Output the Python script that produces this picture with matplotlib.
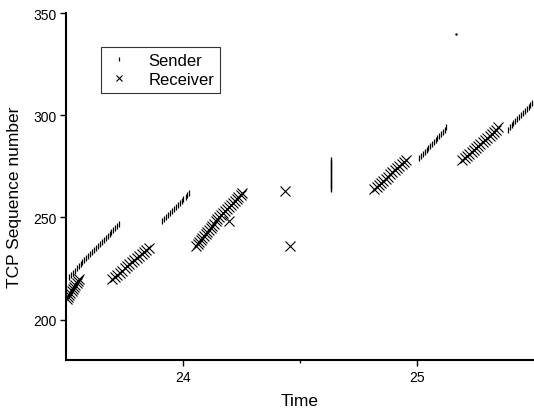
import matplotlib
matplotlib.use('Agg')
import matplotlib.pyplot as plt
from matplotlib import ticker

plt.rcParams['font.family'] = ['Liberation Sans', 'DejaVu Sans']

# Sender packets (time, sequence number)
sender_time = [
    23.513, 23.521, 23.529, 23.537, 23.546, 23.554, 23.562, 23.570, 23.579,
    23.587, 23.595, 23.603, 23.612, 23.620, 23.628, 23.636, 23.645, 23.653,
    23.661, 23.669, 23.678, 23.686, 23.694, 23.702, 23.711, 23.719, 23.727,
    23.911, 23.919, 23.928, 23.936, 23.944, 23.952, 23.961, 23.969, 23.977,
    23.986, 23.994, 24.002, 24.011, 24.019, 24.027,
    24.633, 24.633, 24.633, 24.633, 24.633, 24.633, 24.633, 24.633, 24.633,
    24.633, 24.633, 24.633, 24.633, 24.633, 24.633,
    25.010, 25.018, 25.025, 25.033, 25.041, 25.049, 25.056, 25.064, 25.072,
    25.080, 25.087, 25.095, 25.103, 25.111, 25.118, 25.126,
    25.388, 25.396, 25.404, 25.412, 25.420, 25.428, 25.436, 25.444, 25.452,
    25.461, 25.469, 25.477, 25.485, 25.493,
]
sender_seq = [
    221, 222, 223, 224, 225, 226, 227, 228, 229, 230, 231, 232, 233, 234,
    235, 236, 237, 238, 239, 240, 241, 242, 243, 244, 245, 246, 247,
    248, 249, 250, 251, 252, 253, 254, 255, 256, 257, 258, 259, 260, 261, 262,
    264, 265, 266, 267, 268, 269, 270, 271, 272, 273, 274, 275, 276, 277, 278,
    279, 280, 281, 282, 283, 284, 285, 286, 287, 288, 289, 290, 291, 292,
    293, 294,
    293, 294, 295, 296, 297, 298, 299, 300, 301, 302, 303, 304, 305, 306,
]

# Receiver acks (time, sequence number)
receiver_time = [
    23.503, 23.508, 23.513, 23.519, 23.524, 23.529, 23.535, 23.540, 23.545,
    23.551, 23.556,
    23.697, 23.708, 23.718, 23.729, 23.739, 23.750, 23.760, 23.771, 23.781,
    23.792, 23.802, 23.813, 23.823, 23.834, 23.844, 23.855,
    24.055, 24.062, 24.069, 24.076, 24.083, 24.090, 24.097, 24.104, 24.112,
    24.119, 24.126, 24.133, 24.140, 24.147, 24.154,
    24.163, 24.171, 24.179, 24.187, 24.196, 24.204, 24.212, 24.221, 24.229,
    24.237, 24.246, 24.254,
    24.197, 24.436, 24.457,
    24.817, 24.827, 24.837, 24.846, 24.856, 24.866, 24.876, 24.886, 24.895,
    24.905, 24.915, 24.925, 24.935, 24.944, 24.954,
    25.194, 25.204, 25.213, 25.223, 25.233, 25.242, 25.252, 25.261, 25.271,
    25.281, 25.290, 25.300, 25.310, 25.319, 25.329, 25.338, 25.348,
]
receiver_seq = [
    210, 211, 212, 213, 214, 215, 216, 217, 218, 219, 220,
    220, 221, 222, 223, 224, 225, 226, 227, 228, 229, 230, 231, 232, 233,
    234, 235,
    236, 237, 238, 239, 240, 241, 242, 243, 244, 245, 246, 247, 248, 249, 250,
    251, 252, 253, 254, 255, 256, 257, 258, 259, 260, 261, 262,
    248, 263, 236,
    264, 265, 266, 267, 268, 269, 270, 271, 272, 273, 274, 275, 276, 277, 278,
    278, 279, 280, 281, 282, 283, 284, 285, 286, 287, 288, 289, 290, 291,
    292, 293, 294,
]

# stray speck near the top
stray_time = [25.165]
stray_seq = [339.6]

fig = plt.figure(figsize=(5.34, 4.14), dpi=100)
ax = fig.add_axes([0.1236, 0.127, 0.8764, 0.839])

ax.plot(sender_time, sender_seq, linestyle='none', marker='|', color='black',
        markersize=4.5, markeredgewidth=0.9, label='Sender')
ax.plot(receiver_time, receiver_seq, linestyle='none', marker='x', color='black',
        markersize=6.5, markeredgewidth=0.8, label='Receiver')
ax.plot(stray_time, stray_seq, linestyle='none', marker='.', color='black',
        markersize=1.5)

ax.set_xlim(23.5, 25.5)
ax.set_ylim(180, 350)

ax.xaxis.set_major_locator(ticker.FixedLocator([24, 25]))
ax.xaxis.set_minor_locator(ticker.FixedLocator([24.5]))
ax.yaxis.set_major_locator(ticker.FixedLocator([200, 250, 300, 350]))

for side in ['top', 'right']:
    ax.spines[side].set_visible(False)
for side in ['left', 'bottom']:
    ax.spines[side].set_linewidth(1.5)

ax.tick_params(which='major', direction='out', length=4, width=1,
               labelsize=10, pad=3)
ax.tick_params(which='minor', direction='out', length=2.5, width=1)

ax.set_xlabel('Time', fontsize=12.5)
ax.set_ylabel('TCP Sequence number', fontsize=12.5)
ax.xaxis.set_label_coords(0.5, -0.116)
ax.yaxis.set_label_coords(-0.111, 0.472)
ax.xaxis.label.set_va('center')
ax.yaxis.label.set_va('center')

leg = ax.legend(loc='upper left', bbox_to_anchor=(0.075, 0.902),
                borderaxespad=0, fancybox=False, frameon=True, fontsize=12,
                numpoints=1, markerscale=0.75, handlelength=1.5,
                handletextpad=1.0, borderpad=0.35, labelspacing=0.25)
leg.get_frame().set_edgecolor('black')
leg.get_frame().set_linewidth(0.8)

fig.savefig('out.png', dpi=100)
